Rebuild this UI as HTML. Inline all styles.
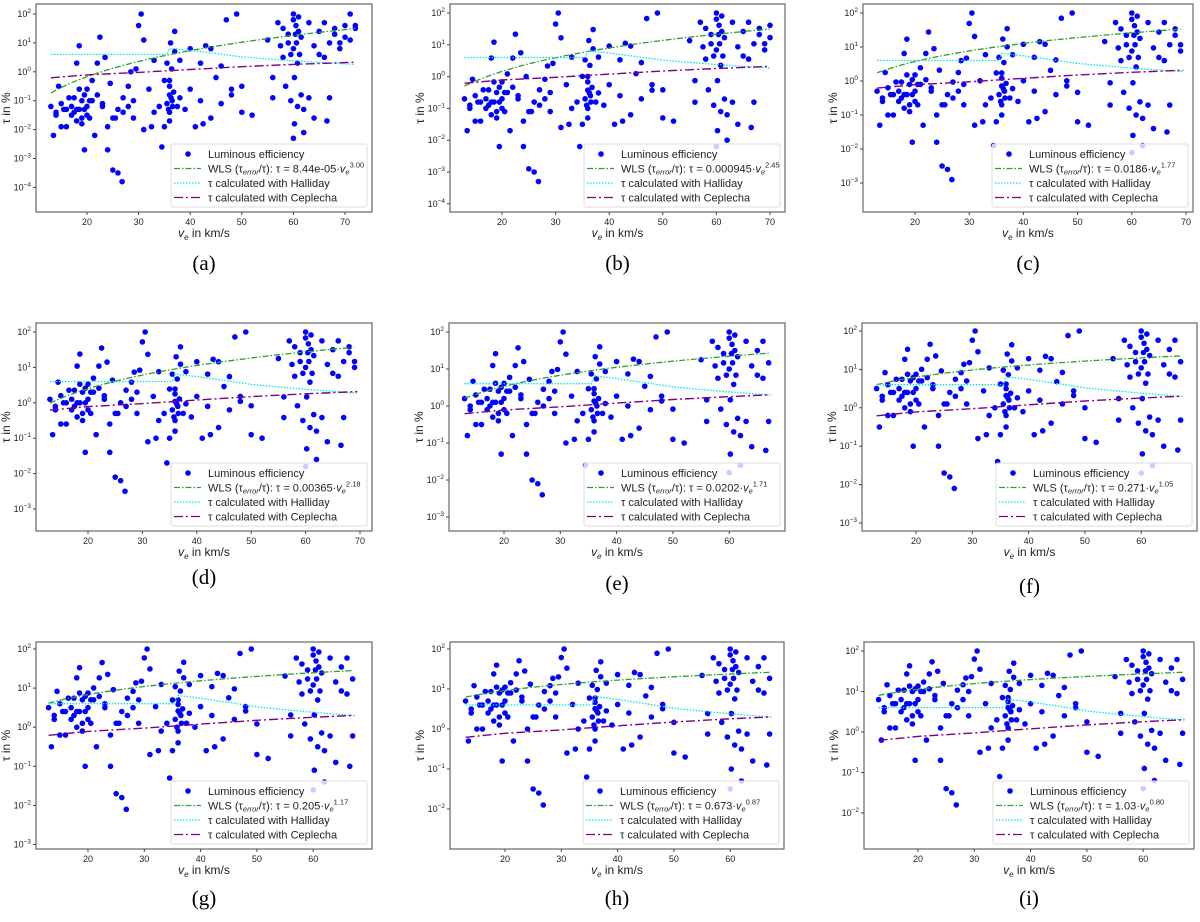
<!DOCTYPE html>
<html><head><meta charset="utf-8"><style>
html,body{margin:0;padding:0;background:#fff;}
svg{display:block;font-family:"Liberation Sans","DejaVu Sans",sans-serif;}
.cap{font-family:"Liberation Serif",serif;font-size:21px;fill:#000;}
.tick{font-size:9px;fill:#222;}
.lab{font-size:12px;fill:#222;}
.leg{font-size:11px;fill:#222;}
</style></head><body>
<svg id="fig" width="1200" height="922" viewBox="0 0 1200 922" xmlns="http://www.w3.org/2000/svg"></svg>
<script>
// shared meteor velocities (km/s)
const velocities=[13,13.5,14,14.5,15,15.5,16,16.5,17,17.5,18,18,18.5,18.5,19,19,19.5,19.5,20,20,20.5,21,21.5,22,22.5,23,23.5,24,24.5,25,25.5,26,26.8,27,28,28.5,29,29.5,
30,30.5,31,32,32.5,33,34,34.5,35,35.5,35.8,36,36,36,36.2,36.4,36.5,36.8,37,37.5,38,39,40,41,42,42.5,43,44,45,46,47,48,
49,50,52,55,56,57,58,58.5,59,59.5,60,60,60,60.2,60.5,60.8,61,61.5,62,63,64,65,66,66.5,67,68,69,70,71,72,
14,15,16,17,17.5,18,18.5,19,19.5,20,20.5,21,22,23,24,25,26,27,28,29,
31,33,35,35.5,36,36,36.3,36.6,37,38,40,42,44,46,48,
57.5,58,59,59.5,60,60.2,60.4,60.6,60.8,61,61.2,61.5,62,63,64,65,66,67,68,69,70,71,72,56,50];
// log10(tau %) for panel (a)
const logTauBase=[-1.2,-2.2,-1.5,-0.5,-1.9,-1.3,-1.3,-0.9,-1.2,-1.4,0.3,-1.3,-0.6,0.9,-1.6,-1.0,-2.7,-1.3,-1.5,-0.6,-1.0,-0.3,-2.2,0.3,1.2,-1.2,0.5,-2.7,-0.4,-3.4,-1.6,-3.5,-3.8,-0.9,-1.2,0.0,-1.6,0.1,
1.6,2.0,1.1,-0.6,-1.9,0.4,-1.2,-2.6,-0.3,0.3,-1.3,-0.8,-0.5,-1.7,1.0,0.1,-1.0,-0.7,1.4,-1.2,0.4,-1.3,0.8,-1.9,0.3,-1.8,0.9,-1.6,-0.2,-1.1,1.8,-0.6,
2.0,-1.4,-1.5,1.1,-0.9,1.7,0.5,-0.5,1.0,-1.0,2.0,-2.3,0.8,-1.8,1.6,0.3,1.9,-0.8,-2.1,1.7,-1.6,0.6,1.7,-1.7,-0.9,1.3,1.0,1.6,2.0,1.5,
-1.4,-1.1,-1.9,-1.5,-0.9,-1.7,-1.3,-1.8,-0.8,-1.2,-1.6,-1.0,-0.8,-1.1,-1.9,-1.6,-1.3,-1.4,-0.5,-1.0,
-2.0,-1.4,-1.9,-1.1,-0.3,-1.4,-0.9,-1.2,0.7,-0.9,-0.6,-1.0,0.8,0.2,-0.8,
0.9,1.5,1.3,0.6,1.8,-0.2,1.3,1.0,-1.2,1.4,0.6,1.2,-1.3,-0.9,0.9,1.4,0.5,1.0,1.5,0.8,1.2,1.1,1.6,-0.2,-0.5];
// per-panel log offsets for low (<30), mid (30-48), high (>48) velocity groups
const offsetLow=[0,0.5,0.9,1.3,1.4,1.7,1.7,1.9,2.0];
const offsetMid=[0,0.4,0.7,0.9,1.0,1.2,1.3,1.4,1.5];
const offsetHigh=[0,0.1,0.2,0.5,0.5,0.6,0.7,0.8,0.9];
const panelVmax=[72,70,69.5,69.5,67.3,67.3,67.3,67.3,67.3];
const wlsA=[8.44e-5,0.000945,0.0186,0.00365,0.0202,0.271,0.205,0.673,1.03];
const wlsB=[3.00,2.45,1.77,2.18,1.71,1.05,1.17,0.87,0.80];
const wlsALabel=["8.44e-05","0.000945","0.0186","0.00365","0.0202","0.271","0.205","0.673"," 1.03"];
const hallidayV=[13,35.5,36,40,45,50,55,60,65,72];
const hallidayT=[4,4,6.5,5.5,4.3,3.3,2.8,2.4,2.1,1.8];
const ceplechaV=[13,20,30,40,50,60,72];
const ceplechaT=[0.62,0.78,0.95,1.2,1.5,1.8,2.15];
const captions=["(a)","(b)","(c)","(d)","(e)","(f)","(g)","(h)","(i)"];

const P=[
 {x0:36,x1:372,y0:4,y1:212,x20:87,ppu:5.16,p2:14,dec:28.9,yt:[2,-4],xt:70,cy:270},
 {x0:450,x1:785,y0:4,y1:212,x20:502,ppu:5.36,p2:13,dec:31.8,yt:[2,-4],xt:70,cy:270},
 {x0:863,x1:1193,y0:4,y1:212,x20:915,ppu:5.42,p2:13,dec:34,yt:[2,-3],xt:70,cy:270},
 {x0:36,x1:372,y0:323,y1:531,x20:88,ppu:5.44,p2:332,dec:35.4,yt:[2,-3],xt:70,cy:584},
 {x0:449,x1:785,y0:323,y1:531,x20:504,ppu:5.63,p2:332,dec:37,yt:[2,-3],xt:60,cy:590},
 {x0:862,x1:1197,y0:323,y1:531,x20:916,ppu:5.63,p2:331,dec:38.4,yt:[2,-3],xt:60,cy:593},
 {x0:36,x1:372,y0:642,y1:849,x20:88,ppu:5.63,p2:649,dec:39.1,yt:[2,-3],xt:60,cy:905},
 {x0:450,x1:784,y0:642,y1:849,x20:505,ppu:5.63,p2:649,dec:40,yt:[2,-2],xt:60,cy:905},
 {x0:864,x1:1194,y0:642,y1:849,x20:918,ppu:5.63,p2:651,dec:40.5,yt:[2,-2],xt:60,cy:905}
];
const NS="http://www.w3.org/2000/svg";
const svg=document.getElementById('fig');
function mk(tag,attrs,parent){const e=document.createElementNS(NS,tag);for(const k in attrs)e.setAttribute(k,attrs[k]);(parent||svg).appendChild(e);return e;}

P.forEach((p,k)=>{
  const g=mk('g',{});
  
  
  const X=v=>p.x20+(v-20)*p.ppu;
  const Y=l=>p.p2+(2-l)*p.dec;
  const cid='clip'+k, lid='lclip'+k;
  const cp=mk('clipPath',{id:cid},g);mk('rect',{x:p.x0,y:p.y0-3,width:p.x1-p.x0,height:p.y1-p.y0+3},cp);
  const lcp=mk('clipPath',{id:lid},g);mk('rect',{x:p.x0,y:p.y0,width:X(panelVmax[k])-p.x0,height:p.y1-p.y0},lcp);
  const fr=mk('rect',{x:p.x0,y:p.y0,width:p.x1-p.x0,height:p.y1-p.y0,fill:'#fff',stroke:'#666','stroke-width':1.2},g);
  
  
  for(let t=20;t<=p.xt;t+=10){
    const x=X(t);
    mk('line',{x1:x,x2:x,y1:p.y1,y2:p.y1+3,stroke:'#444'},g);
    const tx=mk('text',{x:x,y:p.y1+13,'text-anchor':'middle',class:'tick'},g);tx.textContent=t;
    
    
  }
  for(let e=p.yt[0];e>=p.yt[1];e--){
    const y=Y(e);
    mk('line',{x1:p.x0-3,x2:p.x0,y1:y,y2:y,stroke:'#444'},g);
    const tx=mk('text',{x:p.x0-5,y:y+3,'text-anchor':'end',class:'tick'},g);
    tx.innerHTML='10<tspan dy="-4" font-size="6.5">'+(e<0?'\u2212'+(-e):e)+'</tspan>';
    
    
  }
  const xl=mk('text',{x:(p.x0+p.x1)/2,y:p.y1+25,'text-anchor':'middle',class:'lab'},g);
  xl.innerHTML='<tspan font-style="italic">v</tspan><tspan font-style="italic" font-size="8" dy="3">e</tspan><tspan dy="-3"> in km/s</tspan>';
  
  
  const yl=mk('text',{x:0,y:0,'text-anchor':'middle',class:'lab',transform:`translate(${p.x0-26},${(p.y0+p.y1)/2}) rotate(-90)`},g);
  yl.textContent='τ in %';
  
  
  const inner=mk('g',{'clip-path':`url(#${cid})`},g);
  velocities.forEach((v,i)=>{
    if(v>panelVmax[k])return;
    const off=v<30?offsetLow[k]:(v<=48?offsetMid[k]:offsetHigh[k]);
    const b=logTauBase[i];
    const l=Math.min(2,b+off*Math.min(1,(2-b)/3));
    const c=mk('circle',{cx:X(v),cy:Y(l),r:2.8,fill:'#0000ff'},inner);
    
    
  });
  const lines=mk('g',{'clip-path':`url(#${lid})`},g);
  let d='';
  for(let v=13;v<=panelVmax[k]+0.01;v+=1){d+=(d?'L':'M')+X(v).toFixed(1)+','+Y(Math.log10(wlsA[k]*Math.pow(v,wlsB[k]))).toFixed(1);}
  const w=mk('path',{d:d,fill:'none',stroke:'#2ca02c','stroke-width':1.3,'stroke-dasharray':'6,2,1.5,2'},lines);
  
  
  const hp=hallidayV.map((v,i)=>(i?'L':'M')+X(v).toFixed(1)+','+Y(Math.log10(hallidayT[i])).toFixed(1)).join('');
  const h=mk('path',{d:hp,fill:'none',stroke:'#00e5ee','stroke-width':1.3,'stroke-dasharray':'1.5,1.5'},lines);
  
  
  const cpth=ceplechaV.map((v,i)=>(i?'L':'M')+X(v).toFixed(1)+','+Y(Math.log10(ceplechaT[i])).toFixed(1)).join('');
  const ce=mk('path',{d:cpth,fill:'none',stroke:'#800080','stroke-width':1.4,'stroke-dasharray':'9,3,2,3'},lines);
  
  
  const lw=196,lh=63,lx=p.x1-lw-5,ly=p.y1-lh-5;
  const lg=mk('g',{},g);
  
  
  mk('rect',{x:lx,y:ly,width:lw,height:lh,rx:2,fill:'#fff','fill-opacity':0.8,stroke:'#ddd'},lg);
  const rows=[
    '<tspan>Luminous efficiency</tspan>',
    'WLS (τ<tspan font-size="7.5" font-style="italic" dy="2">error</tspan><tspan dy="-2">/τ): τ = '+wlsALabel[k]+'·</tspan><tspan font-style="italic">v</tspan><tspan font-size="7.5" font-style="italic" dy="2">e</tspan><tspan font-size="7.5" dy="-7">'+wlsB[k].toFixed(2)+'</tspan>',
    'τ calculated with Halliday',
    'τ calculated with Ceplecha'];
  rows.forEach((r,i)=>{
    const yy=ly+10+i*14.5;
    if(i===0){mk('circle',{cx:lx+17,cy:yy,r:2.8,fill:'#0000ff'},lg);}
    else{const st=['','#2ca02c','#00e5ee','#800080'][i];const da=['','6,2,1.5,2','1.5,1.5','9,3,2,3'][i];
      mk('line',{x1:lx+3,x2:lx+30,y1:yy,y2:yy,stroke:st,'stroke-width':1.3,'stroke-dasharray':da},lg);}
    const t=mk('text',{x:lx+37,y:yy+4,class:'leg'},lg);t.innerHTML=r;
    
    
  });
  const cap=mk('text',{x:(p.x0+p.x1)/2,y:p.cy,'text-anchor':'middle',class:'cap'},g);
  cap.textContent=captions[k];
  
  
});
</script>
</body></html>
